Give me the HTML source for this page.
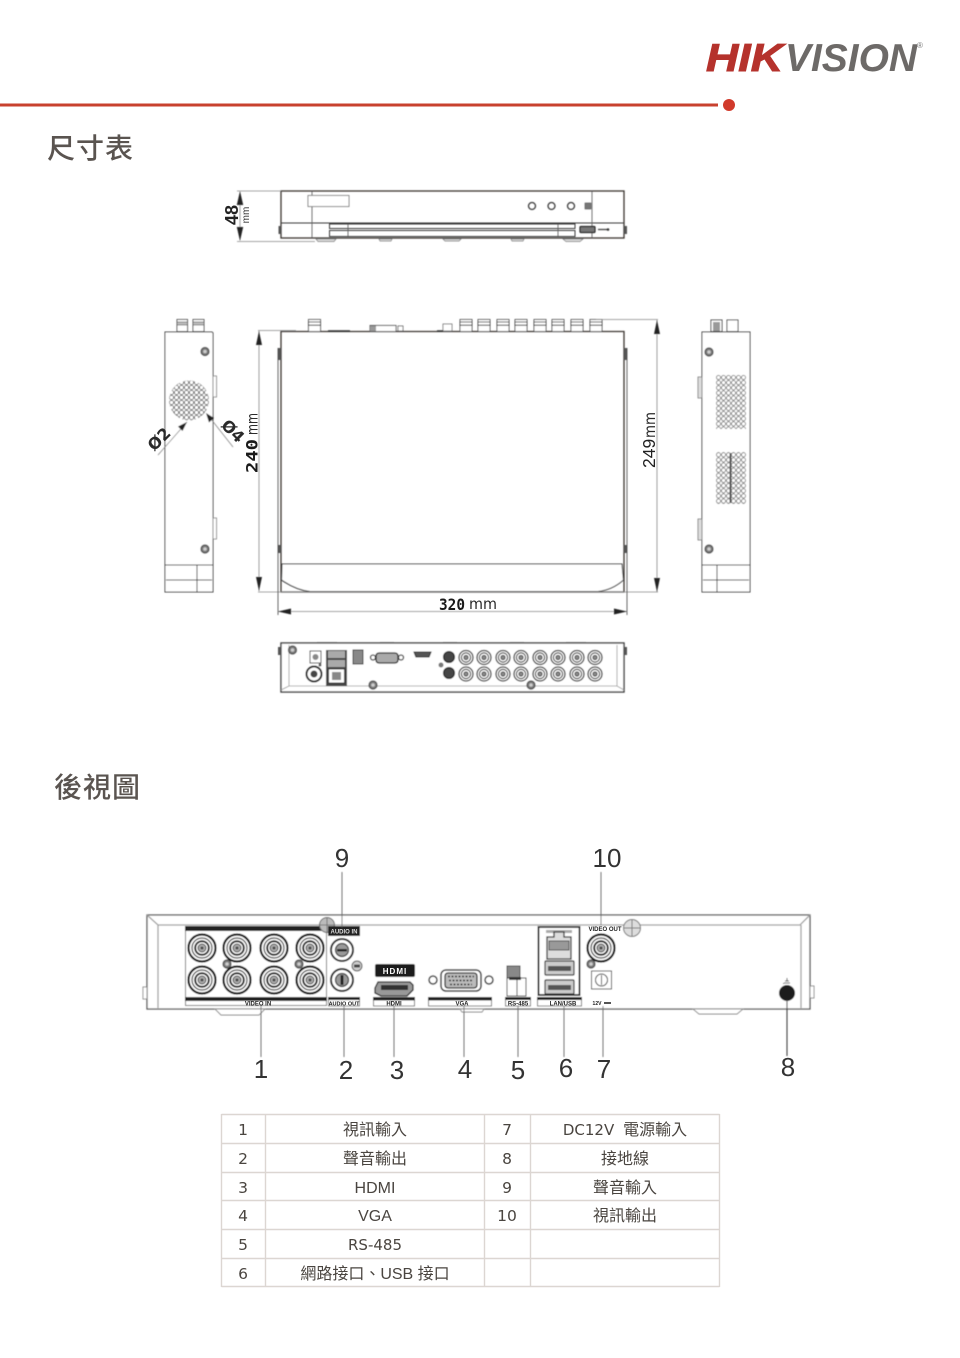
<!DOCTYPE html>
<html lang="zh-Hant">
<head>
<meta charset="utf-8">
<title>尺寸表</title>
<style>
html,body{margin:0;padding:0;background:#fff;width:960px;height:1358px;overflow:hidden}
svg{display:block}
.cjk{font-family:"Liberation Sans","Noto Sans CJK TC",sans-serif}
.h{font-size:28px;font-weight:500;fill:#5a5450;letter-spacing:1px}
.c{font-size:16px;fill:#4a4540;text-anchor:middle}
.dg{font-family:"DejaVu Sans",sans-serif;font-size:15.5px;fill:#4a4540;text-anchor:middle}
.n{font-family:"Liberation Sans",sans-serif;font-size:26px;fill:#333;text-anchor:middle}
.d{font-family:"DejaVu Sans",sans-serif;font-size:16px;fill:#2a2a2a}
.dm{font-family:"DejaVu Sans Mono",monospace;font-weight:bold;font-size:16px;fill:#1a1a1a}
.mm{font-family:"DejaVu Sans",sans-serif;font-size:15px;fill:#2a2a2a}
.l{font-family:"Liberation Sans",sans-serif;font-weight:bold;font-size:6px;fill:#222;text-anchor:middle}
.o{fill:none;stroke:#3a3a3a;stroke-width:1}
.t{fill:none;stroke:#555;stroke-width:.8}
.b{fill:none;stroke:#3a3632;stroke-width:1.3}
.g{stroke:#888;stroke-width:.8;fill:none}
</style>
</head>
<body>
<svg width="960" height="1358" viewBox="0 0 960 1358" xmlns="http://www.w3.org/2000/svg">
<defs>
<filter id="s" x="-5%" y="-5%" width="110%" height="110%"><feGaussianBlur stdDeviation="0.45"/></filter>
<pattern id="mesh" x="716" y="375" width="5" height="5.15" patternUnits="userSpaceOnUse">
  <circle cx="2.5" cy="2.5" r="2.1" fill="#fff" stroke="#555" stroke-width=".7"/>
</pattern>
<pattern id="mesh2" x="169" y="380" width="5" height="5" patternUnits="userSpaceOnUse">
  <circle cx="2.5" cy="2.5" r="2.1" fill="#fff" stroke="#555" stroke-width=".8"/>
</pattern>
<g id="bnc">
  <circle r="13.5" fill="#fff" stroke="#111" stroke-width="2.2"/>
  <circle r="10" fill="#fff" stroke="#333" stroke-width="1.2"/>
  <circle r="6.8" fill="#fff" stroke="#222" stroke-width="2"/>
  <circle r="4" fill="#aaa" stroke="#444" stroke-width="1"/>
  <circle r="1.5" fill="#444"/>
</g>
<g id="bs">
  <circle r="7" fill="#fff" stroke="#333" stroke-width="1.3"/>
  <circle r="4.6" fill="#fff" stroke="#444" stroke-width="1.2"/>
  <circle r="2.2" fill="#888" stroke="#333" stroke-width=".8"/>
</g>
<g id="sc">
  <circle r="4.2" fill="#777" stroke="#333" stroke-width=".8"/>
  <circle r="1.8" fill="#ccc"/>
</g>
<g id="top">
  <rect x="-6" y="0" width="12" height="12" fill="#fff" stroke="#444" stroke-width=".9"/>
  <rect x="-6" y="2.5" width="12" height="3.2" fill="#fff" stroke="#444" stroke-width="1"/>
</g>
</defs>

<!-- header -->
<rect x="0" y="103.500" width="718" height="3" fill="#c8412f"/>
<circle cx="729" cy="105" r="6" fill="#d13a2b"/>
<text x="706" y="71" font-family="Liberation Sans,sans-serif" font-weight="bold" font-style="italic" font-size="39" fill="#b5322c" textLength="77" lengthAdjust="spacingAndGlyphs" stroke="#b5322c" stroke-width="1">HIK</text>
<text x="785" y="71" font-family="Liberation Sans,sans-serif" font-weight="bold" font-style="italic" font-size="39" fill="#6d6a68" textLength="132" lengthAdjust="spacingAndGlyphs">VISION</text>
<text x="917" y="48" font-family="Liberation Sans,sans-serif" font-size="8" fill="#777">®</text>

<text x="47" y="158" class="cjk h">尺寸表</text>
<text x="54" y="797" class="cjk h">後視圖</text>

<g filter="url(#s)">
<!-- front view -->
<rect x="281" y="191" width="343" height="47" class="b"/>
<line x1="281" y1="223" x2="624" y2="223" class="o"/>
<line x1="312" y1="191" x2="312" y2="238" class="t"/>
<line x1="592" y1="191" x2="592" y2="238" class="t"/>
<rect x="308" y="195.500" width="41" height="11" fill="#fff" stroke="#666" stroke-width=".8"/>
<circle cx="532" cy="206" r="3.500" class="o" style="stroke-width:1.300"/>
<circle cx="551.500" cy="206" r="3.500" class="o" style="stroke-width:1.300"/>
<circle cx="571" cy="206" r="3.500" class="o" style="stroke-width:1.300"/>
<rect x="585" y="203" width="6" height="6" fill="#777" stroke="#333" stroke-width=".5"/>
<rect x="329.500" y="224" width="245.500" height="4.500" class="o"/>
<rect x="329.500" y="230.500" width="245.500" height="6" class="o"/>
<line x1="348" y1="224" x2="348" y2="236" class="t"/>
<line x1="558" y1="224" x2="558" y2="236" class="t"/>
<rect x="580" y="226.500" width="15" height="6" rx="1" fill="#777" stroke="#222" stroke-width="1.200"/>
<path d="M598 229.500h10" stroke="#444" stroke-width="1.300"/><circle cx="608" cy="229.500" r="1.300" fill="#333"/>
<rect x="278.500" y="226" width="2.500" height="8" fill="#555"/>
<rect x="624" y="226" width="3" height="8" fill="#555"/>
<path d="M316 239h20l-2 2.500h-16zM379 239h13l-1 2h-11zM443 239h18l-2 2h-14zM511 239h13l-1 2h-11zM563 239h20l-3 2.500h-14z" fill="#ddd" stroke="#777" stroke-width=".7"/>
<path d="M240 192V240" class="g"/>
<path d="M237 191h44M237 241.500h78" class="g"/>
<path d="M240 191l-3.200 14h6.400zM240 241l-3.200-14h6.400z" fill="#222"/>
</g>
<text transform="translate(238,215) rotate(-90)" font-family="Liberation Sans,sans-serif" font-weight="bold" font-size="18" text-anchor="middle" fill="#222">48</text>
<text transform="translate(249,215) rotate(-90)" font-family="Liberation Sans,sans-serif" font-size="10" text-anchor="middle" fill="#333">mm</text>

<g filter="url(#s)">
<!-- plan view -->
<path d="M281 331.500H624V592H281Z" class="b" fill="#fff"/>
<path d="M282 564H622L623.500 580Q612 590 598 591.500H310Q296 590 281.500 580Z" fill="#fff" stroke="#3a3a3a" stroke-width="1.100"/>
<rect x="278" y="348" width="3" height="12" fill="#555"/><rect x="624" y="348" width="3" height="12" fill="#555"/>
<rect x="278" y="545" width="3" height="8" fill="#555"/><rect x="624" y="545" width="3" height="8" fill="#555"/>
<use href="#top" x="314.500" y="319.500"/>
<use href="#top" x="466" y="319.500"/><use href="#top" x="484" y="319.500"/><use href="#top" x="503" y="319.500"/><use href="#top" x="521" y="319.500"/><use href="#top" x="540" y="319.500"/><use href="#top" x="558" y="319.500"/><use href="#top" x="577" y="319.500"/><use href="#top" x="596" y="319.500"/>
<rect x="443" y="324" width="9" height="7" fill="#fff" stroke="#666" stroke-width=".8"/>
<rect x="370" y="325.500" width="26" height="6" fill="#fff" stroke="#444" stroke-width=".9"/>
<rect x="370" y="326" width="6" height="5" fill="#999"/>
<rect x="398" y="326" width="5" height="5" fill="#fff" stroke="#555" stroke-width=".8"/>
<path d="M328 331h22M437 331h6" stroke="#333" stroke-width="1.500"/>
<path d="M596 319.500H658" class="g"/>
<path d="M657 320V592" class="g"/><path d="M657 320l-3 14h6zM657 592l-3-14h6z" fill="#222"/>
<path d="M259 331V591" class="g"/><path d="M259 331l-3 14h6zM259 591l-3-14h6z" fill="#222"/>
<path d="M258 330.500H296M258 592H658" class="g"/>
<path d="M278 348V615M627 348V615" stroke="#444" stroke-width=".8"/>
<path d="M278 611.500H627" class="g"/><path d="M278 611.500l13-3v6zM627 611.500l-13-3v6z" fill="#222"/>

<!-- left side -->
<path d="M165 332H212l1 1V592H165Z" fill="#fff" stroke="#3a3a3a" stroke-width="1"/>
<path d="M165 565H213M166 580H212M197 565V592" stroke="#333" stroke-width="1" fill="none"/>
<rect x="177" y="319.500" width="10.500" height="12" fill="#fff" stroke="#555" stroke-width="1"/>
<rect x="193" y="319.500" width="11" height="12" fill="#fff" stroke="#555" stroke-width="1"/>
<rect x="177" y="322" width="10.500" height="3" fill="#bbb" stroke="#555" stroke-width=".6"/>
<rect x="193" y="322" width="11" height="3" fill="#bbb" stroke="#555" stroke-width=".6"/>
<use href="#sc" x="205" y="351.500"/><use href="#sc" x="205" y="549"/>
<path d="M213 376h3.500v21H213zM213 518h3.500v21H213z" fill="#fff" stroke="#777" stroke-width=".8"/>
<circle cx="189" cy="400.500" r="20" fill="url(#mesh2)"/>
<path d="M158 455L187 422" class="g"/><path d="M187 422l-9 4.500 4.500 4.500z" fill="#222"/>
<path d="M233 447L207 414" class="g"/><path d="M206 413l3 9.500 5-4.500z" fill="#222"/>

<!-- right side -->
<path d="M702 332H750V592H702Z" fill="#fff" stroke="#3a3a3a" stroke-width="1"/>
<path d="M702 565H750M703 580H749M717 565V592" stroke="#333" stroke-width="1" fill="none"/>
<rect x="711" y="320" width="11" height="11.500" fill="#fff" stroke="#444" stroke-width="1"/>
<rect x="713" y="322" width="7" height="9" fill="#999"/>
<rect x="727" y="320" width="11" height="11.500" fill="#fff" stroke="#555" stroke-width="1"/>
<use href="#sc" x="709" y="352"/><use href="#sc" x="709" y="549"/>
<path d="M698 377h4v21h-4zM698 519h4v21h-4z" fill="#ddd" stroke="#777" stroke-width=".8"/>
<rect x="716" y="375" width="30" height="54" fill="url(#mesh)"/>
<rect x="716" y="452" width="30" height="52" fill="url(#mesh)"/>
<rect x="729.500" y="453" width="2" height="50" fill="#555"/>

<!-- rear mini -->
<rect x="281" y="643" width="343" height="49" fill="#fff" stroke="#3a3a3a" stroke-width="1.400"/>
<path d="M281 690L289 686H617L624 690M289 686V645M617 686V645" class="t" style="stroke:#999"/>
<rect x="278" y="647" width="3" height="8" fill="#555"/><rect x="624" y="647" width="3" height="8" fill="#555"/>
<path d="M317 642h20v1h-20zM380 642h14v1h-14zM443 642h14v1h-14zM510 642h14v1h-14zM566 642h20v1h-20z" fill="#666"/>
<use href="#sc" x="292.500" y="650"/>
<rect x="310" y="651" width="11" height="12" fill="#fff" stroke="#333"/><circle cx="315.500" cy="657" r="3" fill="#888"/>
<circle cx="314" cy="674" r="7.500" fill="#fff" stroke="#222" stroke-width="2"/><circle cx="314" cy="674" r="3.500" fill="#444"/>
<circle cx="320" cy="665" r="1.500" fill="#555"/>
<rect x="326" y="650" width="21" height="36" fill="#444"/>
<rect x="328" y="651" width="17" height="7" fill="#aaa"/><rect x="328" y="660" width="17" height="7" fill="#aaa"/><rect x="328.500" y="669" width="16" height="14" fill="#fff" stroke="#333"/><rect x="332" y="672" width="9" height="8" fill="#888"/>
<rect x="353" y="650" width="10" height="14" fill="#888" stroke="#333"/>
<circle cx="373" cy="657.500" r="2.500" class="o" style="stroke-width:1.300"/><circle cx="401" cy="657.500" r="2.500" class="o" style="stroke-width:1.300"/>
<rect x="376" y="653" width="22" height="10" rx="3" fill="#aaa" stroke="#222" stroke-width="1.300"/>
<path d="M414 652h17l-2 5h-13z" fill="#555" stroke="#222"/>
<circle cx="449" cy="657" r="5.500" fill="#444" stroke="#111"/><circle cx="449" cy="673" r="5.500" fill="#444" stroke="#111"/><circle cx="441" cy="665" r="2.500" fill="#777"/>
<use href="#bs" x="466" y="657.500"/><use href="#bs" x="484" y="657.500"/><use href="#bs" x="503" y="657.500"/><use href="#bs" x="521" y="657.500"/><use href="#bs" x="540" y="657.500"/><use href="#bs" x="558" y="657.500"/><use href="#bs" x="577" y="657.500"/><use href="#bs" x="595" y="657.500"/>
<use href="#bs" x="466" y="674"/><use href="#bs" x="484" y="674"/><use href="#bs" x="503" y="674"/><use href="#bs" x="521" y="674"/><use href="#bs" x="540" y="674"/><use href="#bs" x="558" y="674"/><use href="#bs" x="577" y="674"/><use href="#bs" x="595" y="674"/>
<use href="#sc" x="373" y="685"/><use href="#sc" x="531" y="685"/>

<!-- back view -->
<path d="M147 915H810V1009H147Z" fill="#fff" stroke="#555" stroke-width="1.300"/>
<path d="M147 915L158 925H800L810 915M158 925V1008M801 925V1008" fill="none" stroke="#a0a0a0" stroke-width="1.300"/>
<rect x="143" y="987" width="4" height="12" fill="#fff" stroke="#777" stroke-width=".8"/>
<rect x="810" y="986" width="4" height="12" fill="#fff" stroke="#777" stroke-width=".8"/>
<path d="M215 1009h50l-6 6h-38zM460 1009h24l-2 3h-20zM693 1009h50l-6 5h-38z" fill="#fff" stroke="#888" stroke-width=".9"/>

<rect x="185.500" y="926.500" width="141" height="79" fill="#fff" stroke="#555" stroke-width=".8"/>
<rect x="185" y="926" width="142" height="5" fill="#222"/>
<rect x="185" y="997" width="142" height="4" fill="#222"/>
<use href="#bnc" x="202" y="948"/><use href="#bnc" x="237" y="948"/><use href="#bnc" x="274" y="948"/><use href="#bnc" x="310" y="948"/>
<use href="#bnc" x="202" y="980"/><use href="#bnc" x="237" y="980"/><use href="#bnc" x="274" y="980"/><use href="#bnc" x="310" y="980"/>
<use href="#sc" x="227" y="964"/><use href="#sc" x="299" y="964"/>

<circle cx="327" cy="925" r="7.500" fill="#bbb" stroke="#666"/>
<path d="M327 918v14M320 925h14" stroke="#666" stroke-width=".8"/>
<rect x="328" y="926" width="32" height="10" fill="#222"/>
<circle cx="342" cy="950" r="11" fill="#fff" stroke="#222" stroke-width="2"/><circle cx="342" cy="950" r="6.500" fill="#999" stroke="#333" stroke-width="1.200"/><rect x="337" y="949" width="10" height="2.500" fill="#222"/>
<circle cx="342" cy="980" r="11" fill="#fff" stroke="#222" stroke-width="2"/><circle cx="342" cy="980" r="6.500" fill="#999" stroke="#333" stroke-width="1.200"/><rect x="340.500" y="975" width="3" height="10" fill="#222"/>
<circle cx="357" cy="966" r="5" fill="#ccc" stroke="#555"/><rect x="354" y="964.500" width="6" height="3" fill="#444"/>
<rect x="328.500" y="997.500" width="31" height="8.500" fill="#fff" stroke="#555" stroke-width=".8"/><rect x="328" y="997" width="32" height="3" fill="#222"/>

<rect x="375" y="964" width="40" height="13" rx="2" fill="#1f1f1f"/>
<path d="M378 982h32l3 3v5l-3 3-3 3H381l-6-3v-5z" fill="#999" stroke="#222" stroke-width="1.300"/><rect x="381" y="985" width="27" height="5" fill="#333"/>
<rect x="373.500" y="997.500" width="41" height="8.500" fill="#fff" stroke="#555" stroke-width=".8"/><rect x="373" y="997" width="42" height="3.500" fill="#222"/>

<circle cx="433" cy="980" r="4" class="o" style="stroke-width:1.500"/><circle cx="489" cy="980" r="4" class="o" style="stroke-width:1.500"/>
<rect x="441" y="970" width="40" height="21" rx="5" fill="#fff" stroke="#333" stroke-width="1.500"/>
<rect x="445" y="973" width="32" height="15" rx="3" fill="#bbb" stroke="#222" stroke-width="1.300"/>
<path d="M448 976.500h26M449 980.500h24M450 984.500h22" stroke="#222" stroke-width="1.600" stroke-dasharray="2 1.500"/>
<rect x="428.500" y="997.500" width="63" height="8.500" fill="#fff" stroke="#555" stroke-width=".8"/><rect x="428" y="997" width="64" height="3.500" fill="#222"/>

<rect x="507" y="966" width="13" height="13" fill="#888" stroke="#444"/>
<rect x="507" y="978" width="19" height="18" fill="#fff" stroke="#333"/>
<rect x="509" y="977" width="12" height="3" fill="#333"/><line x1="517" y1="980" x2="517" y2="996" class="o"/>
<rect x="505.500" y="997.500" width="25" height="8.500" fill="#fff" stroke="#555" stroke-width=".8"/><rect x="505" y="997" width="26" height="3" fill="#222"/>

<rect x="538.500" y="927" width="41" height="68" fill="#fff" stroke="#222" stroke-width="1.800"/>
<rect x="546" y="930" width="26" height="3" fill="#aaa"/>
<path d="M554 932h10v5h7v22h-24v-22h7z" fill="#ddd" stroke="#333" stroke-width="1.300"/>
<rect x="549" y="941" width="20" height="9" fill="#999" stroke="#333" stroke-width=".8"/>
<rect x="545" y="961" width="29" height="14" rx="1" fill="#ccc" stroke="#333" stroke-width="1.200"/><rect x="548" y="966" width="23" height="5" fill="#555"/>
<rect x="545" y="980" width="29" height="14" rx="1" fill="#ccc" stroke="#333" stroke-width="1.200"/><rect x="548" y="985" width="23" height="5" fill="#555"/>
<rect x="537.500" y="997.500" width="44" height="8.500" fill="#fff" stroke="#555" stroke-width=".8"/><rect x="537" y="997" width="45" height="3" fill="#222"/>

<use href="#bnc" x="601" y="948"/>
<use href="#sc" x="591" y="964"/>
<circle cx="632" cy="928" r="8.500" fill="#ddd" stroke="#777"/><path d="M632 920v16M624 928h16" stroke="#777"/>
<rect x="591.500" y="971" width="20" height="18" fill="#fff" stroke="#444"/><circle cx="601.500" cy="980" r="6" class="o"/><path d="M601.500 975v10" stroke="#444"/>

<circle cx="787" cy="993" r="8" fill="#1a1a1a"/>
<path d="M784 983h6M785 981h4M787 978v3M783.500 983v1" stroke="#444" stroke-width="1"/>

<!-- leaders -->
<path d="M342 872V927M601 872V925M261 1006V1057M344 1006V1057M394 1006V1057M464 1006V1057M518 1006V1057M564 1006V1057M603 1006V1057" stroke="#666" stroke-width=".9"/>
<path d="M787 1000V1056" stroke="#444" stroke-width="1.100"/>
</g>

<!-- dim text -->
<text transform="translate(257.500,473) rotate(-90)" class="dm" textLength="34" lengthAdjust="spacingAndGlyphs">240</text>
<text transform="translate(257.500,435) rotate(-90)" class="mm" textLength="22" lengthAdjust="spacingAndGlyphs">mm</text>
<text transform="translate(655,468) rotate(-90)" font-family="Liberation Sans,sans-serif" font-size="17.500" fill="#1f1f1f">249</text>
<text transform="translate(655,438) rotate(-90)" class="mm" textLength="26" lengthAdjust="spacingAndGlyphs">mm</text>
<text x="439" y="610" class="dm" textLength="26" lengthAdjust="spacingAndGlyphs">320</text>
<text x="469" y="609" class="mm" textLength="28" lengthAdjust="spacingAndGlyphs">mm</text>
<text transform="translate(163,443) rotate(-45)" class="d" text-anchor="middle" font-weight="bold">Ø2</text>
<text transform="translate(229,435) rotate(45)" class="d" text-anchor="middle" font-weight="bold">Ø4</text>

<!-- port labels -->
<text x="344" y="933.500" class="l" style="fill:#ddd">AUDIO IN</text>
<text x="258" y="1005.500" class="l">VIDEO IN</text>
<text x="344" y="1005.500" class="l" style="font-size:5.500px">AUDIO OUT</text>
<text x="395" y="974" class="l" style="fill:#fff;font-size:8px;letter-spacing:1px">HDMI</text>
<text x="394" y="1005.500" class="l">HDMI</text>
<text x="462" y="1005.500" class="l">VGA</text>
<text x="518" y="1005.500" class="l">RS-485</text>
<text x="563" y="1005.500" class="l">LAN/USB</text>
<text x="605" y="931" class="l">VIDEO OUT</text>
<text x="597" y="1005" class="l" style="font-size:5px">12V</text>
<rect x="604" y="1002" width="7" height="2" fill="#555"/>

<!-- numbers -->
<text x="342" y="867" class="n">9</text>
<text x="607" y="867" class="n">10</text>
<text x="261" y="1078" class="n">1</text>
<text x="346" y="1079" class="n">2</text>
<text x="397" y="1079" class="n">3</text>
<text x="465" y="1078" class="n">4</text>
<text x="518" y="1079" class="n">5</text>
<text x="566" y="1077" class="n">6</text>
<text x="604" y="1078" class="n">7</text>
<text x="788" y="1076" class="n">8</text>

<!-- table -->
<g stroke="#dcd6d2" stroke-width="1.400">
<path d="M221.500 1114.500H719.500M221.500 1143.500H719.500M221.500 1172.500H719.500M221.500 1200.500H719.500M221.500 1229.500H719.500M221.500 1258.500H719.500M221.500 1286.500H719.500"/>
<path d="M221.500 1114V1287M265.500 1114V1287M484.500 1114V1287M530.500 1114V1287M719.500 1114V1287"/>
</g>
<g class="cjk">
<text x="243" y="1135" class="dg">1</text><text x="375" y="1135" class="c">視訊輸入</text><text x="507" y="1135" class="dg">7</text><text x="625" y="1135" class="c"><tspan font-family="DejaVu Sans" font-size="15">DC12V</tspan>&#160;&#160;電源輸入</text>
<text x="243" y="1164" class="dg">2</text><text x="375" y="1164" class="c">聲音輸出</text><text x="507" y="1164" class="dg">8</text><text x="625" y="1164" class="c">接地線</text>
<text x="243" y="1193" class="dg">3</text><text x="375" y="1193" class="c">HDMI</text><text x="507" y="1193" class="dg">9</text><text x="625" y="1193" class="c">聲音輸入</text>
<text x="243" y="1221" class="dg">4</text><text x="375" y="1221" class="c">VGA</text><text x="507" y="1221" class="dg">10</text><text x="625" y="1221" class="c">視訊輸出</text>
<text x="243" y="1250" class="dg">5</text><text x="375" y="1250" class="c"><tspan font-family="DejaVu Sans" font-size="15">RS-485</tspan></text>
<text x="243" y="1279" class="dg">6</text><text x="375" y="1279" class="c">網路接口、USB 接口</text>
</g>
</svg>
</body>
</html>
